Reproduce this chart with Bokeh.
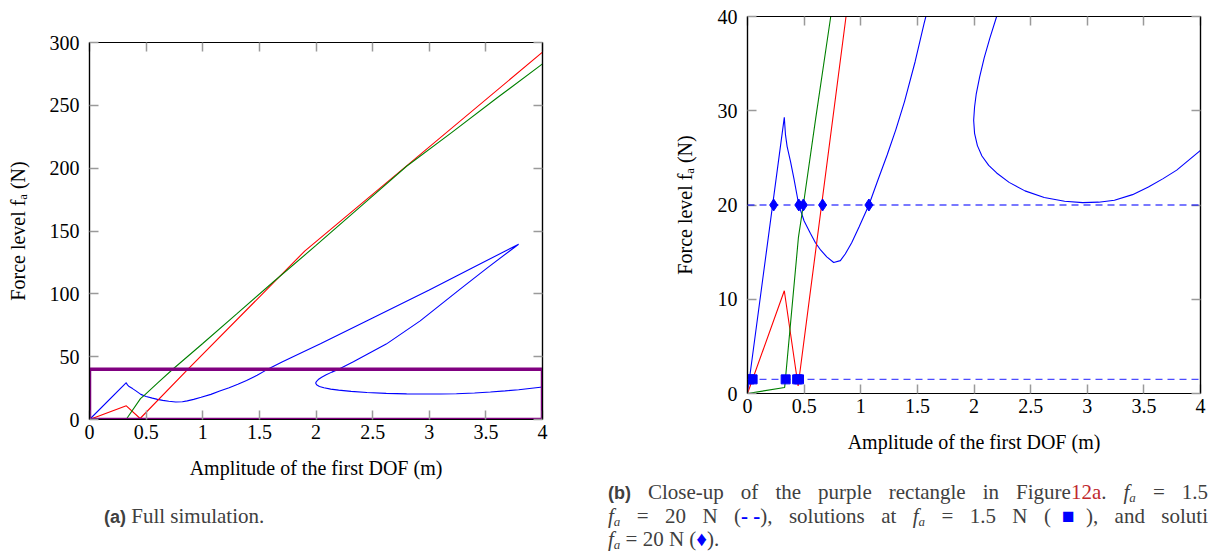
from bokeh.plotting import figure
from bokeh.models import (LinearAxis, Range1d, FixedTicker,
                          CustomJSTickFormatter, Span, Div)
from bokeh.layouts import row, column
from bokeh.embed import file_html
from bokeh.resources import INLINE

# ---------------- data ----------------
blue_x = [0.0, 0.325, 0.335, 0.35, 0.38, 0.41, 0.453, 0.50, 0.555, 0.60, 0.647,
          0.70, 0.761, 0.82, 0.863, 0.92, 0.986, 1.072, 1.15, 1.233, 1.31, 1.387,
          1.48, 1.56, 1.70, 1.862, 2.039, 2.5, 3.0, 3.4, 3.789,
          3.51, 3.27, 2.92, 2.62, 2.33, 2.20, 2.14, 2.09, 2.05, 2.02, 2.005,
          1.997, 2.005, 2.03, 2.07, 2.13, 2.20, 2.31, 2.45, 2.62, 2.80, 2.96,
          3.10, 3.24, 3.40, 3.54, 3.67, 3.79, 4.0]
blue_y = [0.0, 29.3, 27.5, 26.2, 24.6, 22.8, 20.0, 18.3, 17.0, 16.0, 15.2,
          14.5, 13.9, 14.1, 14.8, 16.0, 17.7, 20.0, 22.6, 25.3, 28.0, 31.0,
          35.2, 39.3, 45.8, 52.8, 60.3, 80.8, 103.0, 121.5, 139.5,
          120.5, 103.5, 78.5, 60.0, 46.0, 40.0, 37.7, 35.6, 33.6, 31.8, 30.4,
          29.0, 27.6, 26.3, 25.2, 24.2, 23.4, 22.4, 21.5, 20.8, 20.4, 20.25,
          20.3, 20.5, 21.1, 21.9, 22.8, 23.7, 25.8]

red_x = [0.0, 0.325, 0.447, 0.87, 1.9, 4.0]
red_y = [0.0, 10.9, 0.8, 40.0, 134.0, 292.3]

green_x = [0.0, 0.328, 0.45, 0.493, 0.60, 0.735, 1.0, 1.3, 1.63, 2.0, 2.4,
           2.8, 3.2, 3.6, 4.0]
green_y = [0.0, 0.64, 16.6, 20.0, 29.0, 40.0, 60.5, 84.0, 110.0, 138.5, 170.0,
           201.5, 228.5, 256.0, 283.0]

# close-up rectangle (in the full-simulation axes)
zoom_left, zoom_right, zoom_bottom, zoom_top = [0.0], [4.0], [0.0], [40.0]

# force levels and solutions
level_low = 1.5
level_high = 20.0
sol_low_x = [0.017, 0.045, 0.337, 0.4385, 0.455]
sol_low_y = [1.5, 1.5, 1.5, 1.5, 1.5]
sol_high_x = [0.231, 0.453, 0.493, 0.663, 1.072]
sol_high_y = [20.0, 20.0, 20.0, 20.0, 20.0]

x_ticks = [0, 0.5, 1, 1.5, 2, 2.5, 3, 3.5, 4]
y_ticks_full = [0, 50, 100, 150, 200, 250, 300]
y_ticks_zoom = [0, 10, 20, 30, 40]

x_label = "Amplitude of the first DOF (m)"
y_label = "Force level f\u2090 (N)"

# ---------------- styling ----------------
SERIF = "Liberation Serif"
TICK_COLOR = "#9a9a9a"
CAP_COLOR = "#404040"
BLUE, RED, GREEN, PURPLE = "#0000ff", "#ff0000", "#008000", "#800080"
FS = "20px"


def make_fig(width, height, y_max, y_ticks, borders, ylab_standoff, xlab_standoff):
    l, r, t, b = borders
    p = figure(width=width, height=height, x_range=Range1d(0, 4),
               y_range=Range1d(0, y_max), output_backend="svg",
               toolbar_location=None, min_border_left=l, min_border_right=r,
               min_border_top=t, min_border_bottom=b,
               x_axis_label=x_label, y_axis_label=y_label)
    p.grid.visible = False
    p.outline_line_color = "black"
    p.outline_line_width = 1.2
    p.background_fill_color = "white"
    p.border_fill_color = "white"
    bottom_ax = p.below[0]
    left_ax = p.left[0]
    bottom_ax.ticker = FixedTicker(ticks=x_ticks)
    left_ax.ticker = FixedTicker(ticks=y_ticks)
    blank = CustomJSTickFormatter(code="return '';")
    top_ax = LinearAxis(ticker=FixedTicker(ticks=x_ticks), formatter=blank)
    right_ax = LinearAxis(ticker=FixedTicker(ticks=y_ticks), formatter=blank)
    p.add_layout(top_ax, "above")
    p.add_layout(right_ax, "right")
    fmt = CustomJSTickFormatter(code="return tick.toString();")
    for ax in (bottom_ax, left_ax, top_ax, right_ax):
        ax.major_tick_in = 9
        ax.major_tick_out = 0
        ax.major_tick_line_color = TICK_COLOR
        ax.major_tick_line_width = 1.5
        ax.minor_tick_line_color = None
        ax.axis_line_color = "black"
        ax.axis_line_width = 1.2
        ax.major_label_text_font = SERIF
        ax.major_label_text_font_size = FS
        ax.major_label_text_color = "black"
        ax.axis_label_text_font = SERIF
        ax.axis_label_text_font_size = FS
        ax.axis_label_text_font_style = "normal"
        ax.axis_label_text_color = "black"
    for ax in (top_ax, right_ax):
        ax.major_label_standoff = 0
        ax.major_label_text_font_size = "1px"
    bottom_ax.formatter = fmt
    left_ax.formatter = fmt
    bottom_ax.major_label_standoff = 5
    left_ax.major_label_standoff = 10
    left_ax.axis_label_standoff = ylab_standoff
    bottom_ax.axis_label_standoff = xlab_standoff
    return p


BASE = ("font-family:'Liberation Serif';font-size:21px;color:%s;"
        "line-height:23.5px;white-space:nowrap;" % CAP_COLOR)
TAG = "font-family:'Liberation Sans';font-weight:bold;font-size:18px;"
FA = ("<i>f</i><span style='font-size:13px;line-height:0;position:relative;"
      "top:3px;'><i>a</i></span>")
LINE = "height:23.5px;line-height:23.5px;overflow:visible;"


def caption_div(height, html):
    return Div(text=html, width=604, height=height, margin=(0, 0, 0, 0),
               styles={"overflow": "hidden"})


# ---------------- (a) full simulation ----------------
HA = 485
pa = make_fig(604, HA, 300, y_ticks_full, (89, 62, 42, HA - 419), 18, 15)
pa.line(blue_x, blue_y, line_color=BLUE, line_width=1.1)
pa.line(red_x, red_y, line_color=RED, line_width=1.1)
pa.line(green_x, green_y, line_color=GREEN, line_width=1.1)
pa.quad(left=zoom_left, right=zoom_right, bottom=zoom_bottom, top=zoom_top,
        fill_color=None, line_color=PURPLE, line_width=3.5)

html_a = ("<div style=\"%spadding-left:104px;padding-top:20px;\">"
          "<span style=\"%s\">(a)</span> Full simulation.</div>" % (BASE, TAG))
ca = caption_div(554 - HA, html_a)

# ---------------- (b) close-up ----------------
HB = 470
pb = make_fig(604, HB, 40, y_ticks_zoom, (143, 8, 16, HB - 393), 19, 15)
for lvl in (level_low, level_high):
    pb.add_layout(Span(location=lvl, dimension="width", line_color=BLUE,
                       line_alpha=0.7, line_width=1.4, line_dash="7 5"))
pb.line(blue_x, blue_y, line_color=BLUE, line_width=1.1)
pb.line(red_x, red_y, line_color=RED, line_width=1.1)
pb.line(green_x, green_y, line_color=GREEN, line_width=1.1)
pb.scatter(sol_low_x, sol_low_y, marker="square", size=9, color=BLUE)
pb.scatter(sol_high_x, sol_high_y, marker="diamond", size=12, color=BLUE)

JUST = LINE + "text-align:justify;text-align-last:justify;width:600px;white-space:normal;"
DASH = "display:inline-block;color:%s;font-weight:bold;" % BLUE
line1 = ("<div style=\"%s\"><span style=\"%s\">(b)</span> Close-up of the purple "
         "rectangle in Figure<span style='color:#c0282d'>12a</span>. %s = 1.5</div>"
         % (JUST, TAG, FA))
line2 = ("<div style=\"%s\">%s = 20 N (<span style=\"%s\">- -</span>), solutions at "
         "%s = 1.5 N (<span style='color:%s'>&#9632;</span>), and soluti</div>"
         % (JUST, FA, DASH, FA, BLUE))
line3 = ("<div style=\"%s\">%s = 20 N (<span style='color:%s'>&#9830;</span>).</div>"
         % (LINE, FA, BLUE))
html_b = ("<div style=\"%spadding-left:4px;padding-top:11px;\">%s%s%s</div>"
          % (BASE, line1, line2, line3))
cb = caption_div(554 - HB, html_b)

layout = row(column(pa, ca), column(pb, cb))
open("out.html", "w").write(file_html(layout, INLINE))
